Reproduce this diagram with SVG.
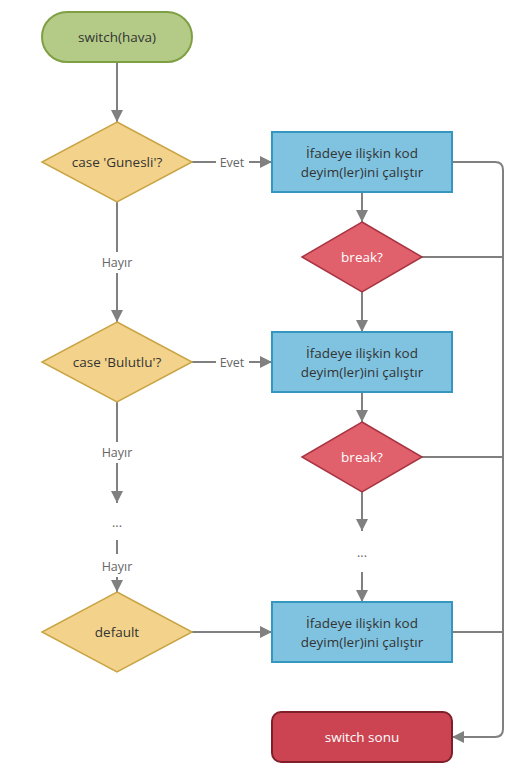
<svg xmlns="http://www.w3.org/2000/svg" width="521" height="777" viewBox="0 0 521 777">
<style>
text{font-family:"Open Sans","Liberation Sans",sans-serif;font-size:13.5px;text-anchor:middle;dominant-baseline:central;fill:#333}
.lbl{fill:#666;font-size:12.5px}
.w{fill:#fff}
.ln{stroke:#808080;stroke-width:2;fill:none}
.dec{fill:#f3d38b;stroke:#c9a444;stroke-width:1.5}
.act{fill:#80c3e0;stroke:#3597c0;stroke-width:2}
.brk{fill:#e0606c;stroke:#a83442;stroke-width:1.5}
</style>
<defs>
<marker id="ah" viewBox="0 0 10 10" refX="10" refY="5" markerWidth="6" markerHeight="6" orient="auto" markerUnits="strokeWidth">
<path d="M0,0 L10,5 L0,10 z" fill="#808080"/>
</marker>
</defs>
<rect width="521" height="777" fill="#fff"/>
<g id="connectors">
<line class="ln" x1="117" y1="62" x2="117" y2="122" marker-end="url(#ah)"/>
<line class="ln" x1="192" y1="162" x2="216" y2="162"/>
<line class="ln" x1="249" y1="162" x2="272" y2="162" marker-end="url(#ah)"/>
<line class="ln" x1="117" y1="202" x2="117" y2="252"/>
<line class="ln" x1="117" y1="273" x2="117" y2="322" marker-end="url(#ah)"/>
<line class="ln" x1="362" y1="192" x2="362" y2="222" marker-end="url(#ah)"/>
<line class="ln" x1="362" y1="292" x2="362" y2="332" marker-end="url(#ah)"/>
<line class="ln" x1="192" y1="362" x2="216" y2="362"/>
<line class="ln" x1="249" y1="362" x2="272" y2="362" marker-end="url(#ah)"/>
<line class="ln" x1="117" y1="402" x2="117" y2="442"/>
<line class="ln" x1="117" y1="463" x2="117" y2="503" marker-end="url(#ah)"/>
<line class="ln" x1="117" y1="540" x2="117" y2="554"/>
<line class="ln" x1="117" y1="577" x2="117" y2="592" marker-end="url(#ah)"/>
<line class="ln" x1="362" y1="392" x2="362" y2="422" marker-end="url(#ah)"/>
<line class="ln" x1="362" y1="492" x2="362" y2="531" marker-end="url(#ah)"/>
<line class="ln" x1="362" y1="572" x2="362" y2="602" marker-end="url(#ah)"/>
<line class="ln" x1="192" y1="632" x2="272" y2="632" marker-end="url(#ah)"/>
<path class="ln" d="M452,162 H495 Q503,162 503,170 V729 Q503,737 495,737 H452" marker-end="url(#ah)"/>
<line class="ln" x1="422" y1="257" x2="503" y2="257"/>
<line class="ln" x1="422" y1="457" x2="503" y2="457"/>
<line class="ln" x1="452" y1="632" x2="503" y2="632"/>
<text class="lbl" x="232" y="162">Evet</text>
<text class="lbl" x="232" y="362">Evet</text>
<text class="lbl" x="117" y="262">Hayır</text>
<text class="lbl" x="117" y="452">Hayır</text>
<text class="lbl" x="117" y="566">Hayır</text>
<text class="lbl" x="117" y="522">...</text>
<text class="lbl" x="362" y="552">...</text>
</g>
<g id="start">
<rect x="42" y="12" width="150" height="50" rx="25" fill="#b3cb87" stroke="#7f9f45" stroke-width="2"/>
<text x="117" y="37">switch(hava)</text>
</g>
<g id="case1">
<polygon class="dec" points="117,122 192,162 117,202 42,162"/>
<text x="117" y="162">case 'Gunesli'?</text>
</g>
<g id="act1">
<rect class="act" x="272" y="132" width="180" height="60"/>
<text x="362" y="153">İfadeye ilişkin kod</text>
<text x="362" y="172">deyim(ler)ini çalıştır</text>
</g>
<g id="break1">
<polygon class="brk" points="362,222 422,257 362,292 302,257"/>
<text class="w" x="362" y="257">break?</text>
</g>
<g id="case2">
<polygon class="dec" points="117,322 192,362 117,402 42,362"/>
<text x="117" y="362">case 'Bulutlu'?</text>
</g>
<g id="act2">
<rect class="act" x="272" y="332" width="180" height="60"/>
<text x="362" y="353">İfadeye ilişkin kod</text>
<text x="362" y="372">deyim(ler)ini çalıştır</text>
</g>
<g id="break2">
<polygon class="brk" points="362,422 422,457 362,492 302,457"/>
<text class="w" x="362" y="457">break?</text>
</g>
<g id="default">
<polygon class="dec" points="117,592 192,632 117,672 42,632"/>
<text x="117" y="632">default</text>
</g>
<g id="act3">
<rect class="act" x="272" y="602" width="180" height="60"/>
<text x="362" y="623">İfadeye ilişkin kod</text>
<text x="362" y="642">deyim(ler)ini çalıştır</text>
</g>
<g id="end">
<rect x="272" y="712" width="180" height="50" rx="9" fill="#cc4451" stroke="#7f1f2a" stroke-width="2"/>
<text class="w" x="362" y="737">switch sonu</text>
</g>
</svg>
